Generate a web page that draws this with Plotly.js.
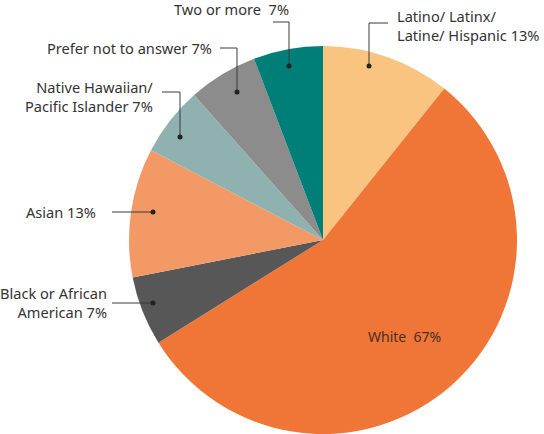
<!DOCTYPE html>
<html>
<head>
<meta charset="utf-8">
<script src="https://cdn.plot.ly/plotly-3.0.1.min.js"></script>
<style>html,body{margin:0;padding:0;background:#fff;}#chart{width:544px;height:434px;}</style>
</head>
<body>
<div id="chart"></div>
<script>
// Data
var categories = ["Latino/ Latinx/ Latine/ Hispanic", "White", "Black or African American", "Asian", "Native Hawaiian/ Pacific Islander", "Prefer not to answer", "Two or more"];
var values = [13, 67, 7, 13, 7, 7, 7];
var labelTexts = ["Latino/ Latinx/<br>Latine/ Hispanic 13%", "White  67%", "Black or African<br>American 7%", "Asian 13%", "Native Hawaiian/<br>Pacific Islander 7%", "Prefer not to answer 7%", "Two or more  7%"];
var colors = ["#F8C47F", "#EF7637", "#575757", "#F39966", "#8FB1AF", "#8C8C8C", "#007F78"];

var W = 544, H = 434;
function px(x){ return x / W; }
function py(y){ return 1 - y / H; }

// label placement (pixel positions): text anchor, and leader path
var place = [
  {tx: 395, ty: 26, xa: "left", path: [[388,23],[369,23],[369,66]]},
  {tx: 404, ty: 336, xa: "center", path: null},
  {tx: 109, ty: 302, xa: "right", path: [[112,303],[153,303]]},
  {tx: 98, ty: 212, xa: "right", path: [[112,212],[153,212]]},
  {tx: 155, ty: 97, xa: "right", path: [[162,92],[180,92],[180,137]]},
  {tx: 214, ty: 48, xa: "right", path: [[220,48],[237,48],[237,92]]},
  {tx: 291, ty: 9, xa: "right", path: [[273,22],[289,22],[289,66]]}
];

var annotations = [], shapes = [];
place.forEach(function(p, i){
  annotations.push({
    x: px(p.tx), y: py(p.ty), xref: "paper", yref: "paper",
    text: labelTexts[i], showarrow: false, xanchor: p.xa, yanchor: "middle",
    align: p.xa === "center" ? "center" : p.xa,
    font: {family: "'Noto Sans', sans-serif", size: i === 1 ? 14 : 14.6, color: i === 1 ? "#4a2f22" : "#333333"}
  });
  if (p.path) {
    var d = p.path.map(function(pt, k){ return (k ? "L" : "M") + px(pt[0]) + "," + py(pt[1]); }).join(" ");
    shapes.push({type: "path", xref: "paper", yref: "paper", path: d, line: {color: "#3a3a3a", width: 1}});
    var e = p.path[p.path.length - 1];
    shapes.push({type: "circle", xref: "paper", yref: "paper",
      x0: px(e[0] - 2.5), x1: px(e[0] + 2.5), y0: py(e[1] + 2.5), y1: py(e[1] - 2.5),
      fillcolor: "#222222", line: {width: 0}});
  }
});

var trace = {
  type: "pie",
  labels: categories,
  values: values,
  sort: false,
  direction: "clockwise",
  rotation: 0,
  textinfo: "none",
  hoverinfo: "label+percent",
  marker: {colors: colors, line: {width: 0}},
  domain: {x: [129/544, 517/544], y: [0, 388/434]},
  showlegend: false
};

Plotly.newPlot("chart", [trace], {
  width: W, height: H,
  margin: {l: 0, r: 0, t: 0, b: 0},
  paper_bgcolor: "#ffffff",
  showlegend: false,
  annotations: annotations,
  shapes: shapes
}, {staticPlot: true, displayModeBar: false});
</script>
</body>
</html>
